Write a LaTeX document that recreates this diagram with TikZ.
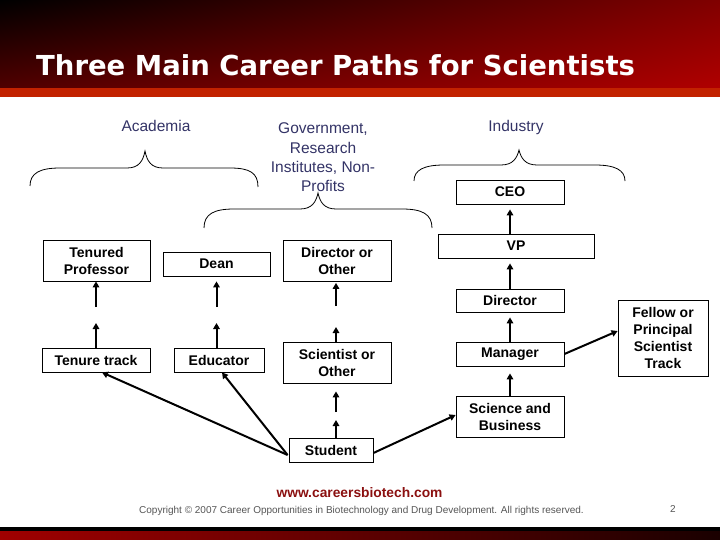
\documentclass[tikz,border=0pt]{standalone}
\usepackage{fontspec}
\setmainfont{DejaVu Sans}
\newfontfamily\libsans{Liberation Sans}
\usetikzlibrary{arrows.meta,shadings,calc}
\definecolor{navy}{HTML}{333366}
\definecolor{hdrTR}{HTML}{800000}
\definecolor{hdrBL}{HTML}{500000}
\definecolor{hdrBR}{HTML}{B00000}
\definecolor{stripe}{HTML}{C22200}
\definecolor{wwwred}{HTML}{8B1010}
\definecolor{copygray}{HTML}{555555}
\definecolor{footred}{HTML}{A00000}
\definecolor{footdark}{HTML}{1A0000}
\begin{document}
\begin{tikzpicture}[x=1pt,y=-1pt,
  box/.style={draw=black, line width=0.8pt, fill=white, inner sep=0pt, align=center,
    font=\libsans\bfseries\fontsize{14}{17}\selectfont},
  arr/.style={line width=2pt, -{Triangle[length=6pt,width=6.5pt]}},
  brc/.style={line width=0.8pt},
  cat/.style={text=navy, font=\libsans\fontsize{15.5}{19.3}\selectfont, align=center, inner sep=0pt}]
\useasboundingbox (0,0) rectangle (720,540);
% header
\shade[upper left=black, upper right=hdrTR, lower left=hdrBL, lower right=hdrBR] (0,0) rectangle (720,88);
\fill[stripe] (0,88) rectangle (720,97);
\node[anchor=base west, inner sep=0pt, text=white, font=\bfseries\fontsize{27.5}{30}\selectfont] (title) at (36,76) {Three Main Career Paths for Scientists};
% footer bars
\fill[black] (0,527) rectangle (720,531);
\shade[left color=footred, right color=footdark] (0,531) rectangle (720,540);
\node[anchor=base, inner sep=0pt, text=wwwred, font=\libsans\bfseries\fontsize{13.8}{16}\selectfont] (www) at (359.5,497) {www.careersbiotech.com};
\node[anchor=base west, inner sep=0pt, text=copygray, font=\libsans\fontsize{10}{11}\selectfont] (copy) at (139,513) {Copyright \textcopyright{} 2007 Career Opportunities in Biotechnology and Drug Development. All rights reserved.};
\node[anchor=base, inner sep=0pt, text=copygray, font=\libsans\fontsize{10}{11}\selectfont] (pg) at (673,512) {2};
% category labels
\node[cat, anchor=base] (acad) at (156,132) {Academia};
\node[cat] (gov) at (323,157.4) {Government,\\Research\\Institutes, Non-\\Profits};
\node[cat, anchor=base] (ind) at (516,132) {Industry};
% braces
\draw[brc] (30,186) .. controls (30,173) and (40,168) .. (60,168) -- (127,168)
  .. controls (139,168) and (143,161) .. (145,151)
  .. controls (147,161) and (151,168) .. (163,168) -- (230,168)
  .. controls (250,168) and (258,173) .. (258,187);
\draw[brc] (204,228) .. controls (204,214) and (214,209) .. (234,209) -- (300,209)
  .. controls (312,209) and (316,202) .. (318,193)
  .. controls (320,202) and (324,209) .. (336,209) -- (402,209)
  .. controls (422,209) and (432,214) .. (432,228);
\draw[brc] (414,181) .. controls (414,170) and (424,165) .. (444,165) -- (501,165)
  .. controls (513,165) and (517,158) .. (519,150)
  .. controls (521,158) and (525,165) .. (537,165) -- (595,165)
  .. controls (615,165) and (625,170) .. (625,181);
% boxes
\node[box, minimum width=107pt, minimum height=41pt] (tp) at (96.5,260.5) {Tenured\\Professor};
\node[box, minimum width=107pt, minimum height=24pt] (dean) at (216.5,264) {Dean};
\node[box, minimum width=108pt, minimum height=41pt] (dor) at (337,260.5) {Director or\\Other};
\node[box, minimum width=108pt, minimum height=24pt] (ceo) at (510,192) {CEO};
\node[box, minimum width=156pt, minimum height=24pt] (vp) at (516,246) {VP};
\node[box, minimum width=108pt, minimum height=23pt] (dir) at (510,300.5) {Director};
\node[box, minimum width=108pt, minimum height=24pt] (mgr) at (510,354) {Manager};
\node[box, minimum width=108pt, minimum height=41pt] (sab) at (510,416.5) {Science and\\Business};
\node[box, minimum width=90pt, minimum height=76pt] (fel) at (663,338) {Fellow or\\Principal\\Scientist\\Track};
\node[box, minimum width=108pt, minimum height=24pt] (tt) at (96,360) {Tenure track};
\node[box, minimum width=90pt, minimum height=24pt] (edu) at (219,360) {Educator};
\node[box, minimum width=108pt, minimum height=41pt] (sci) at (337,362.5) {Scientist or\\Other};
\node[box, minimum width=84pt, minimum height=24pt] (stu) at (331,450) {Student};
% gap coordinates
\coordinate (g1) at (96,323);
\coordinate (g2) at (96,307);
\coordinate (g3) at (216.5,323);
\coordinate (g4) at (216.5,307);
\coordinate (g5) at (336,327);
\coordinate (g6) at (336,306);
\coordinate (g7) at (336,420);
\coordinate (g8) at (336,412);
% arrows
\draw[arr] (tt.north) -- (g1);
\draw[arr] (g2) -- (g2 |- tp.south);
\draw[arr] (g3 |- edu.north) -- (g3);
\draw[arr, shorten >=5pt] (g4) -- (g4 |- dean.south);
\draw[arr] (g5 |- sci.north) -- (g5);
\draw[arr, shorten >=1.5pt] (g6) -- (g6 |- dor.south);
\draw[arr] (g7 |- stu.north) -- (g7);
\draw[arr, shorten >=8pt] (g8) -- (g8 |- sci.south);
\draw[arr, shorten >=5pt] (ceo.south |- vp.north) -- (ceo.south);
\draw[arr, shorten >=5pt] (dir.north) -- (dir.north |- vp.south);
\draw[arr, shorten >=5pt] (mgr.north) -- (dir.south);
\draw[arr, shorten >=7pt] (sab.north) -- (mgr.south);
\draw[arr] (mgr.east) -- ($(fel.west)+(0,-7)$);
\draw[arr] ($(stu.east)+(0,3)$) -- ($(sab.west)+(0,-1.5)$);
\draw[arr] ($(stu.west)+(-1,5)$) -- ($(tt.south)+(6,0)$);
\draw[arr] ($(stu.west)+(-1,5)$) -- ($(edu.south)+(3,0)$);
\end{tikzpicture}
\end{document}
